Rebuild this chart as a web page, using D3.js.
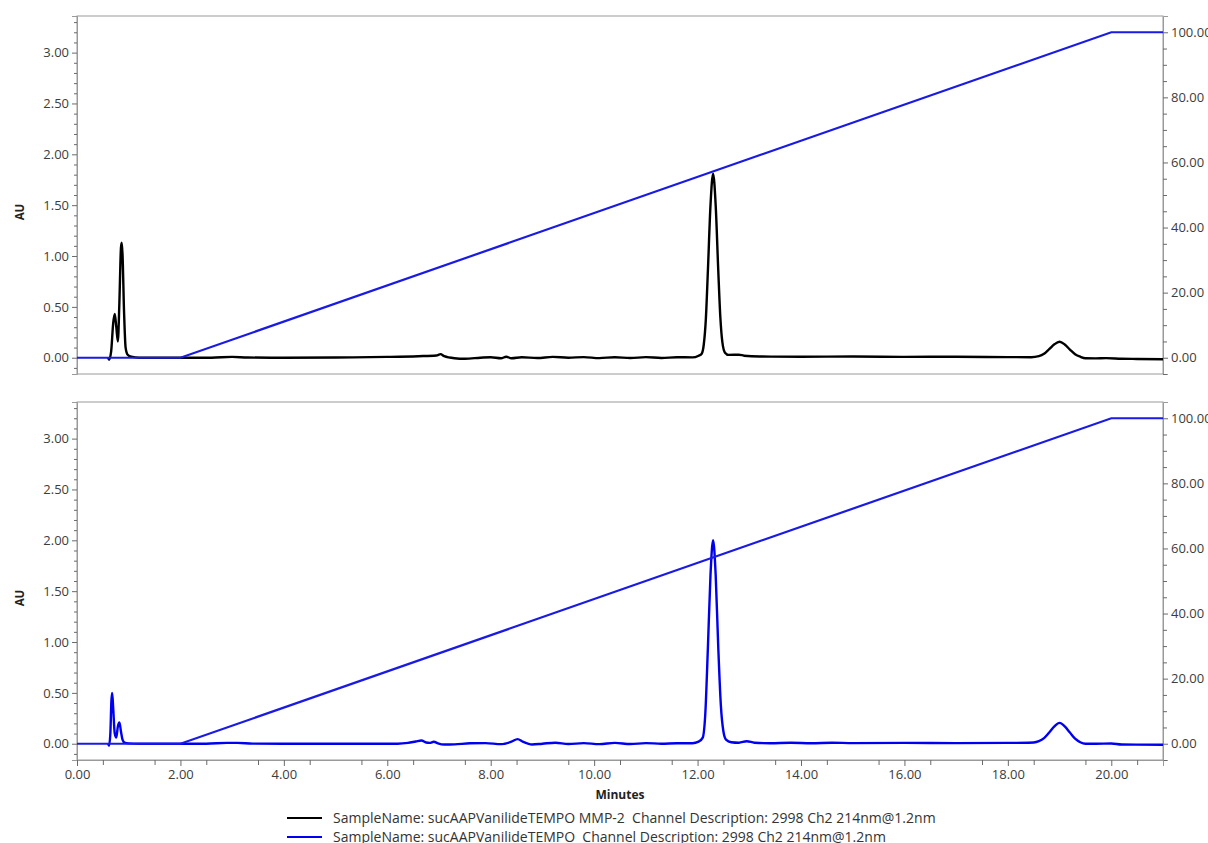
<!DOCTYPE html>
<html><head><meta charset="utf-8">
<script src="https://cdn.jsdelivr.net/npm/d3@7"></script>
<style>
body{margin:0;background:#fff}
svg{display:block}
text{font-family:"Open Sans","Noto Sans",sans-serif}
</style>
</head><body>
<svg id="chart" width="1208" height="843"></svg>
<script>
// ---------- data ----------
const xTicks = [0, 2, 4, 6, 8, 10, 12, 14, 16, 18, 20];
const auTicks = [0, 0.5, 1.0, 1.5, 2.0, 2.5, 3.0];
const pctTicks = [0, 20, 40, 60, 80, 100];

// solvent gradient (% B) vs minutes
const gradientTrace = [[0, 0], [2.0, 0], [20.0, 100], [21.0, 100]];

// top: sucAAPVanilideTEMPO MMP-2 (AU vs minutes)
const topTrace = [
  [0.60, 0.0], [0.62, -0.02], [0.66, 0.06], [0.70, 0.34], [0.73, 0.43], [0.76, 0.30],
  [0.79, 0.16], [0.82, 0.55], [0.85, 1.08], [0.865, 1.13], [0.88, 1.02], [0.91, 0.45],
  [0.94, 0.10], [0.98, 0.03], [1.05, 0.01], [1.2, 0.0], [2.0, 0.0], [2.6, 0.0],
  [3.0, 0.008], [3.3, 0.002], [4.0, 0.0], [5.0, 0.002], [6.0, 0.008], [6.6, 0.015],
  [6.95, 0.022], [7.03, 0.035], [7.1, 0.015], [7.3, -0.005], [7.5, -0.01], [7.8, 0.0],
  [8.0, 0.005], [8.2, -0.005], [8.3, 0.01], [8.4, -0.005], [8.6, 0.005], [8.9, -0.003],
  [9.2, 0.008], [9.5, 0.0], [9.8, 0.006], [10.1, -0.004], [10.4, 0.005], [10.7, -0.003],
  [11.0, 0.006], [11.3, -0.002], [11.6, 0.005], [11.9, 0.003], [12.02, 0.02], [12.08, 0.04],
  [12.12, 0.13], [12.16, 0.38], [12.20, 0.86], [12.25, 1.50], [12.30, 1.81], [12.35, 1.50],
  [12.40, 0.86], [12.44, 0.40], [12.48, 0.15], [12.53, 0.05], [12.60, 0.028], [12.8, 0.03],
  [12.9, 0.02], [13.2, 0.012], [14.0, 0.01], [15.0, 0.012], [16.0, 0.008], [17.0, 0.01],
  [18.0, 0.006], [18.45, 0.005], [18.6, 0.015], [18.7, 0.038], [18.8, 0.084], [18.9, 0.132],
  [19.0, 0.157], [19.1, 0.13], [19.2, 0.08], [19.3, 0.035], [19.4, 0.01], [19.5, -0.005],
  [19.7, -0.006], [19.9, -0.004], [20.2, -0.01], [20.5, -0.012], [21.0, -0.015]
];

// bottom: sucAAPVanilideTEMPO (AU vs minutes)
const bottomTrace = [
  [0.60, 0.0], [0.62, -0.02], [0.645, 0.10], [0.665, 0.42], [0.68, 0.50], [0.70, 0.35],
  [0.73, 0.10], [0.76, 0.06], [0.79, 0.17], [0.82, 0.21], [0.85, 0.12], [0.88, 0.04],
  [0.92, 0.01], [1.0, 0.003], [1.2, 0.0], [2.5, 0.0], [2.9, 0.008], [3.1, 0.008],
  [3.4, 0.001], [4.0, 0.0], [6.2, 0.0], [6.4, 0.008], [6.55, 0.022], [6.66, 0.032],
  [6.75, 0.012], [6.82, 0.008], [6.9, 0.02], [6.98, 0.004], [7.1, -0.008], [7.3, -0.006],
  [7.6, 0.004], [7.9, 0.006], [8.2, -0.004], [8.4, 0.02], [8.52, 0.045], [8.62, 0.02],
  [8.8, -0.008], [9.0, 0.0], [9.25, 0.01], [9.5, -0.003], [9.8, 0.006], [10.1, -0.004],
  [10.4, 0.008], [10.7, -0.003], [11.0, 0.006], [11.3, 0.0], [11.6, 0.005], [11.9, 0.005],
  [12.02, 0.02], [12.10, 0.06], [12.15, 0.30], [12.20, 0.95], [12.25, 1.66], [12.30, 2.00],
  [12.35, 1.66], [12.40, 0.95], [12.45, 0.38], [12.50, 0.12], [12.55, 0.04], [12.65, 0.015],
  [12.8, 0.01], [12.95, 0.025], [13.1, 0.01], [13.4, 0.005], [13.8, 0.01], [14.2, 0.004],
  [14.6, 0.01], [15.0, 0.006], [16.0, 0.008], [17.0, 0.006], [18.0, 0.008], [18.4, 0.01],
  [18.5, 0.012], [18.6, 0.025], [18.7, 0.055], [18.8, 0.11], [18.9, 0.17], [19.0, 0.205],
  [19.1, 0.17], [19.2, 0.11], [19.3, 0.05], [19.4, 0.015], [19.5, 0.0], [19.7, 0.0],
  [20.0, 0.002], [20.2, -0.008], [21.0, -0.01]
];

const legendLabels = [
  "SampleName: sucAAPVanilideTEMPO MMP-2  Channel Description: 2998 Ch2 214nm@1.2nm",
  "SampleName: sucAAPVanilideTEMPO  Channel Description: 2998 Ch2 214nm@1.2nm"
];
const traceColors = ["#000000", "#0000f0"];
const gradientColor = "#1a1ae6";

// ---------- layout ----------
const svg = d3.select("#chart");
const left = 77, right = 1163;
const panels = [
  {top: 16, bottom: 374, data: topTrace, color: traceColors[0], xLabels: false},
  {top: 402, bottom: 760, data: bottomTrace, color: traceColors[1], xLabels: true}
];

const x = d3.scaleLinear().domain([0, 21]).range([left, right]);
const fmt = d3.format(".2f");
const frameColor = "#9a9a9a";
const tickColor = "#6a6a6a";
const textColor = "#3c3c3c";

panels.forEach((p, i) => {
  const y = d3.scaleLinear().domain([-0.16, 3.36]).range([p.bottom, p.top]);
  const yR = d3.scaleLinear().domain([-5, 105]).range([p.bottom, p.top]);
  const g = svg.append("g");

  const clipId = "clip" + i;
  svg.append("clipPath").attr("id", clipId).append("rect")
    .attr("x", left).attr("y", p.top).attr("width", right - left).attr("height", p.bottom - p.top);

  // frame
  g.append("rect").attr("x", left).attr("y", p.top).attr("width", right - left).attr("height", p.bottom - p.top)
    .attr("fill", "none").attr("stroke", frameColor).attr("stroke-width", 1);

  // left axis
  g.append("g").attr("transform", `translate(${left},0)`)
    .call(d3.axisLeft(y).tickValues(auTicks).tickFormat(fmt).tickSize(5).tickPadding(3));
  g.append("g").attr("transform", `translate(${left},0)`)
    .call(d3.axisLeft(y).tickValues(d3.range(-1, 34).map(d => d / 10).filter(d => auTicks.indexOf(d) < 0)).tickFormat("").tickSize(3))
    .call(s => s.select(".domain").remove());

  // right axis
  g.append("g").attr("transform", `translate(${right},0)`)
    .call(d3.axisRight(yR).tickValues(pctTicks).tickFormat(fmt).tickSize(5).tickPadding(3));
  g.append("g").attr("transform", `translate(${right},0)`)
    .call(d3.axisRight(yR).tickValues(d3.range(-5, 105, 5).filter(d => pctTicks.indexOf(d) < 0)).tickFormat("").tickSize(4))
    .call(s => s.select(".domain").remove());

  if (p.xLabels) {
    g.append("g").attr("transform", `translate(0,${p.bottom})`)
      .call(d3.axisBottom(x).tickValues(xTicks).tickFormat(fmt).tickSize(6).tickPadding(4));
    g.append("g").attr("transform", `translate(0,${p.bottom})`)
      .call(d3.axisBottom(x).tickValues(d3.range(1, 42, 2).map(d => d / 2)).tickFormat("").tickSize(5))
      .call(s => s.select(".domain").remove());
  }

  g.selectAll(".domain").attr("stroke", frameColor);
  g.selectAll(".tick line").attr("stroke", tickColor);
  g.selectAll(".tick text").attr("fill", textColor).style("font-size", "13px");

  // AU label
  g.append("text").attr("transform", `translate(24,${(p.top + p.bottom) / 2 + 17}) rotate(-90)`)
    .attr("text-anchor", "middle").attr("font-weight", "bold").attr("font-size", 11.5).attr("fill", "#222")
    .text("AU");

  const plot = g.append("g").attr("clip-path", `url(#${clipId})`);
  const line = d3.line().x(d => x(d[0])).y(d => y(d[1])).curve(d3.curveMonotoneX);
  plot.append("path").datum(p.data).attr("d", line)
    .attr("fill", "none").attr("stroke", p.color).attr("stroke-width", 2.4).attr("stroke-linejoin", "round");
  const gline = d3.line().x(d => x(d[0])).y(d => yR(d[1]));
  plot.append("path").datum(gradientTrace).attr("d", gline)
    .attr("fill", "none").attr("stroke", gradientColor).attr("stroke-width", 2.2);
});

// x axis title
svg.append("text").attr("x", 620).attr("y", 799).attr("text-anchor", "middle")
  .attr("font-weight", "bold").attr("font-size", 12).attr("fill", "#222").text("Minutes");

// legend
legendLabels.forEach((t, i) => {
  const ly = 818 + i * 19;
  svg.append("line").attr("x1", 287).attr("x2", 322).attr("y1", ly).attr("y2", ly)
    .attr("stroke", traceColors[i]).attr("stroke-width", 2.2);
  svg.append("text").attr("x", 333).attr("y", ly + 5).attr("font-size", 14).attr("fill", "#333")
    .style("white-space", "pre").text(t);
});
</script>
</body></html>
